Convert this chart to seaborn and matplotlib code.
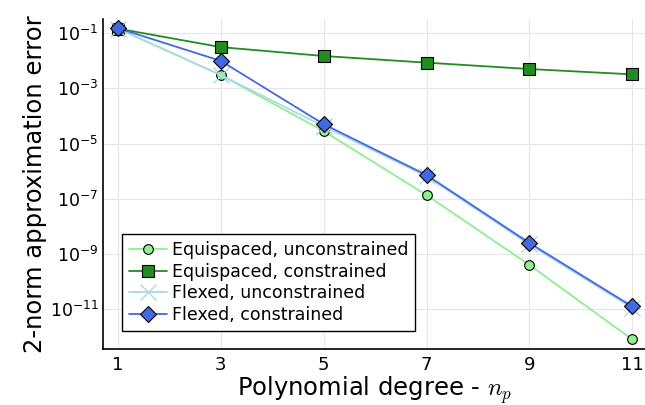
import numpy as np
import pandas as pd
import seaborn as sns
import matplotlib
matplotlib.use("Agg")
import matplotlib.pyplot as plt
from matplotlib.ticker import FixedLocator, LogFormatterMathtext, NullLocator

degrees = [1, 3, 5, 7, 9, 11]
equi_unconstrained = [1.45e-1, 3.0e-3, 2.8e-5, 1.35e-7, 4.0e-10, 8.0e-13]
equi_constrained = [1.45e-1, 3.1e-2, 1.48e-2, 8.5e-3, 5.0e-3, 3.2e-3]
flex_unconstrained = [1.45e-1, 3.0e-3, 4.2e-5, 6.5e-7, 2.2e-9, 1.1e-11]
flex_constrained = [1.5e-1, 9.8e-3, 5.0e-5, 7.2e-7, 2.5e-9, 1.25e-11]

labels = ["Equispaced, unconstrained", "Equispaced, constrained",
          "Flexed, unconstrained", "Flexed, constrained"]
series = [equi_unconstrained, equi_constrained, flex_unconstrained, flex_constrained]
colors = ["#90EE90", "#228B22", "#ADD8E6", "#4169E1"]
markers = ["o", "s", "x", "D"]
msizes = [7, 8.5, 11, 8.5]

sns.set_theme(style="white")
plt.rcParams['font.family'] = ['DejaVu Sans']
plt.rcParams['mathtext.fontset'] = 'cm'
plt.rcParams['text.color'] = 'black'
plt.rcParams['axes.labelcolor'] = 'black'
plt.rcParams['xtick.color'] = 'black'
plt.rcParams['ytick.color'] = 'black'

fig, ax = plt.subplots(figsize=(6.45, 4.05), dpi=100)
fig.subplots_adjust(left=0.16, right=1.0, top=0.953, bottom=0.138)

for lab, vals, c, m, ms in zip(labels, series, colors, markers, msizes):
    df = pd.DataFrame({"deg": degrees, "err": vals})
    kw = dict(markeredgecolor=c, markeredgewidth=1.0) if m == "x" else dict(markeredgecolor="black", markeredgewidth=0.8)
    sns.lineplot(data=df, x="deg", y="err", ax=ax, color=c, marker=m,
                 markersize=ms, linewidth=1.3, label=lab, **kw)

ax.set_yscale("log")
ax.set_xlim(0.71, 11.25)
ax.set_ylim(10**-12.45, 10**-0.49)
ax.set_xticks(degrees)
ax.set_xticklabels([str(d) for d in degrees])
ax.yaxis.set_major_locator(FixedLocator([10.0**e for e in [-1, -3, -5, -7, -9, -11]]))
ax.yaxis.set_major_formatter(LogFormatterMathtext())
ax.yaxis.set_minor_locator(NullLocator())
ax.tick_params(axis="both", direction="in", length=4, width=1, labelsize=13, color="black")
ax.tick_params(axis="y", labelsize=12.5)
ax.tick_params(axis="x", pad=5)
ax.grid(True, color="#e6e6e6", linewidth=0.8)
for s in ["top", "right"]:
    ax.spines[s].set_visible(False)
for s in ["left", "bottom"]:
    ax.spines[s].set_color("black")
    ax.spines[s].set_linewidth(1.2)

ax.set_xlabel(r"Polynomial degree - $n_p$", fontsize=17.5, labelpad=0)
ax.set_ylabel("2-norm approximation error", fontsize=17.5, labelpad=2)

leg = ax.legend(loc="lower left", bbox_to_anchor=(0.018, 0.03), fontsize=12.5,
                frameon=True, fancybox=False, edgecolor="black", framealpha=1,
                handlelength=2.2, handletextpad=0.3, borderpad=0.4, labelspacing=0.2)
leg.get_frame().set_linewidth(1.0)

fig.savefig("out.png", dpi=100)
